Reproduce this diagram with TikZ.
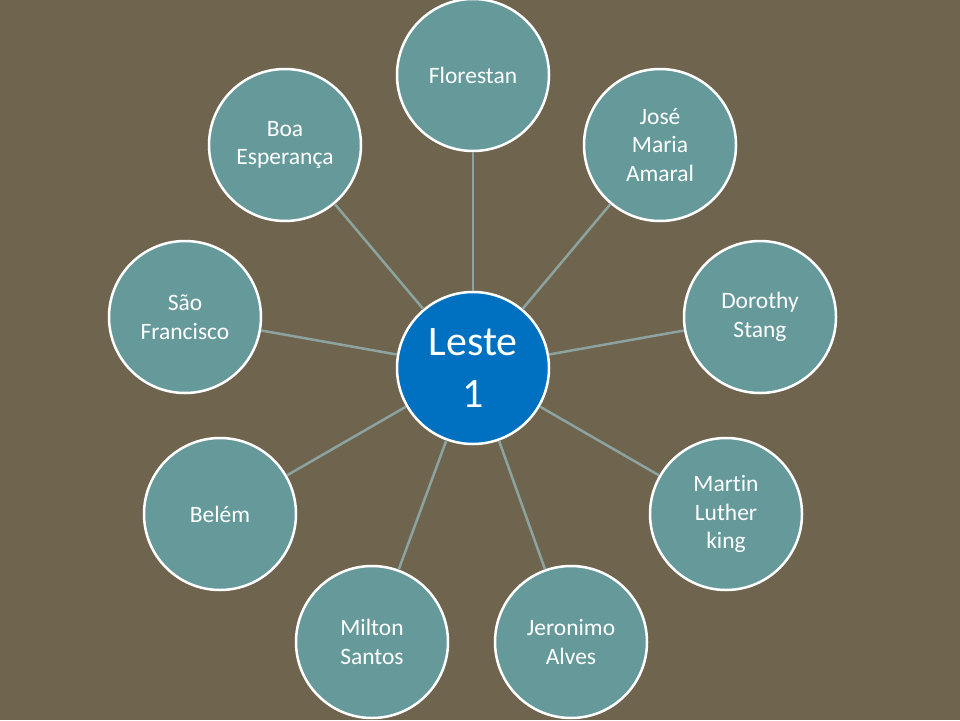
\documentclass[tikz,border=0pt]{standalone}
\usepackage{fontspec}
\setmainfont{Carlito}[Ligatures=NoCommon]
\definecolor{bgc}{RGB}{111,101,79}
\definecolor{teal2}{RGB}{102,154,154}
\definecolor{blue2}{RGB}{0,112,192}
\definecolor{linec}{RGB}{140,163,160}
\begin{document}
\begin{tikzpicture}[x=1pt,y=-1pt,
  outer/.style={circle,draw=white,line width=2.5pt,fill=teal2,minimum size=152pt,inner sep=0pt,align=center,text=white,font=\fontsize{23.5}{28.5}\selectfont},
  hub/.style={circle,draw=white,line width=2.5pt,fill=blue2,minimum size=152pt,inner sep=0pt,align=center,text=white,font=\fontsize{42}{52}\selectfont},
  conn/.style={draw=linec,line width=2.5pt}]
\fill[bgc] (0,0) rectangle (960,720);
\useasboundingbox (0,0) rectangle (960,720);
\node[hub] (c) at (473,368) {Leste\\1};
\node[outer] (n1) at (473,75) {Florestan};
\node[outer] (n2) at (660,145) {José\\Maria\\Amaral};
\node[outer] (n3) at (760,317) {Dorothy\\Stang};
\node[outer] (n4) at (726,514) {Martin\\Luther\\king};
\node[outer] (n5) at (571,642) {Jeronimo\\Alves};
\node[outer] (n6) at (372,642) {Milton\\Santos};
\node[outer] (n7) at (220,514) {Belém};
\node[outer] (n8) at (185,317) {São\\Francisco};
\node[outer] (n9) at (285,145) {Boa\\Esperança};
\foreach \n in {n1,n2,n3,n4,n5,n6,n7,n8,n9}{
  \draw[conn] (c) -- (\n);
}
\end{tikzpicture}
\end{document}
